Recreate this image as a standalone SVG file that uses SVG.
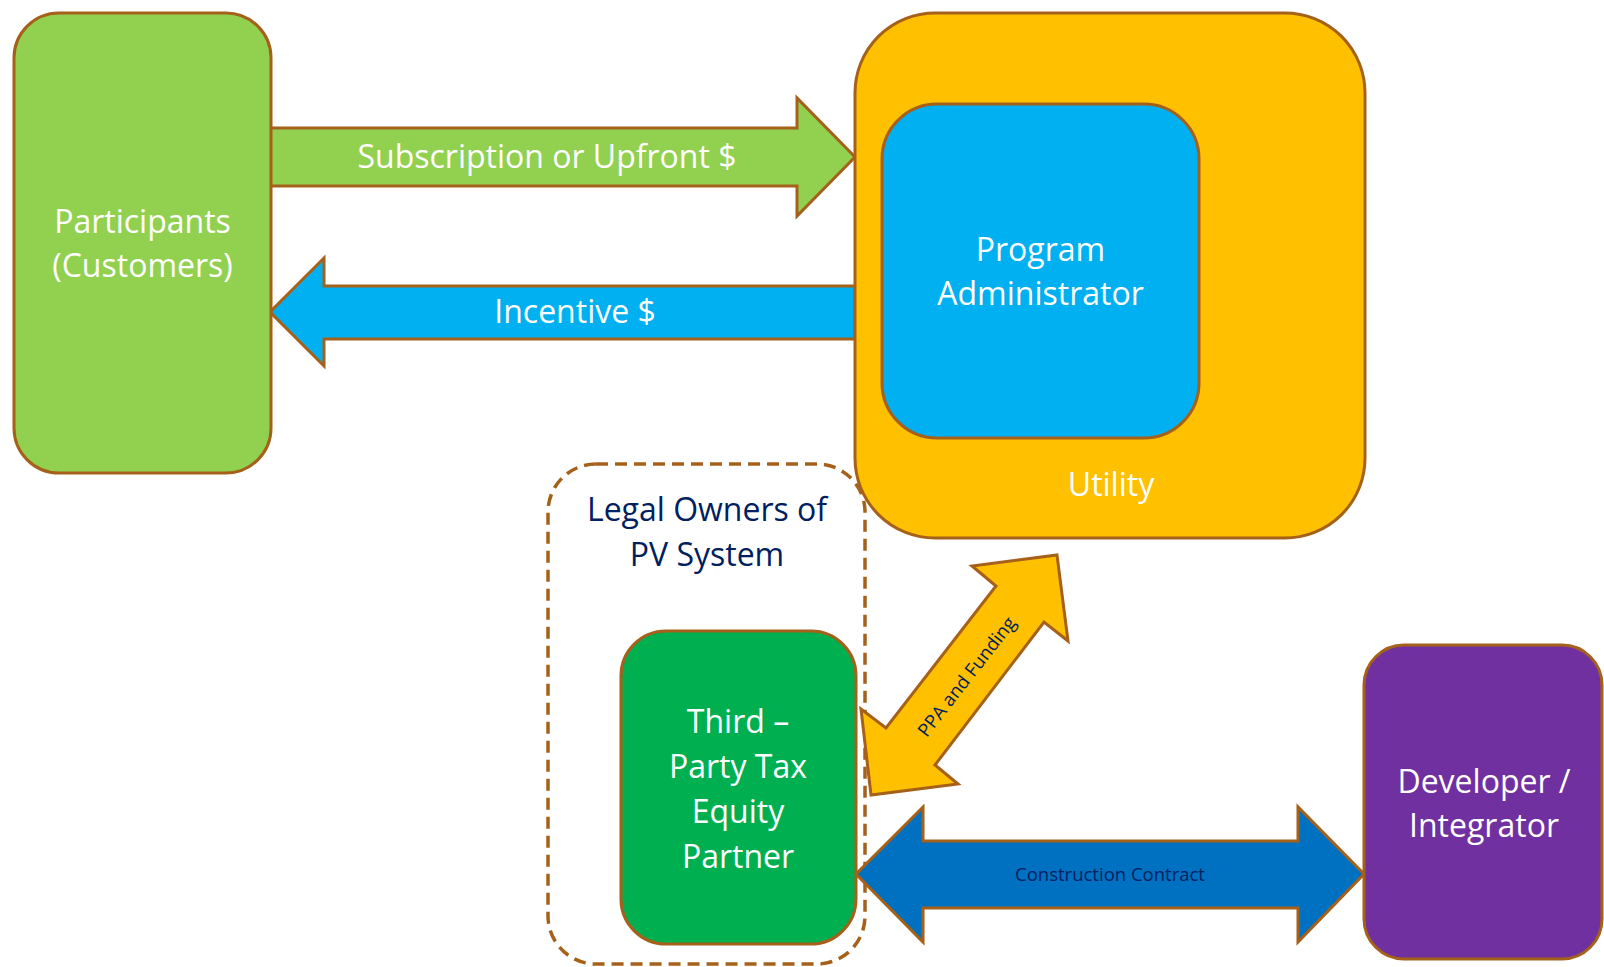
<svg xmlns="http://www.w3.org/2000/svg" width="1604" height="967" viewBox="0 0 1604 967">
<style>
.box{stroke:#A5601A;stroke-width:3}
.arr{stroke:#A5601A;stroke-width:3;stroke-linejoin:miter}
.t{font-family:"Open Sans","Liberation Sans",sans-serif;font-size:32px;fill:#FFFFFF;text-anchor:middle}
.nav{font-family:"Open Sans","Liberation Sans",sans-serif;fill:#002060;text-anchor:middle}
</style>
<rect width="1604" height="967" fill="#FFFFFF"/>
<g id="legal-owners">
<rect x="548" y="464" width="317" height="500" rx="48" ry="48" fill="none" stroke="#A5601A" stroke-width="3.5" stroke-dasharray="12,7"/>
<text class="nav" font-size="32" x="707" y="521">Legal Owners of</text>
<text class="nav" font-size="32" x="707" y="566">PV System</text>
</g>
<g id="connectors">
<polygon class="arr" fill="#92D050" points="270,128 797,128 797,98 855,157 797,216 797,186 270,186"/>
<text class="t" x="547" y="168">Subscription or Upfront $</text>
<polygon class="arr" fill="#00B0F0" points="855,286 324,286 324,258 270,312 324,366 324,339 855,339"/>
<text class="t" x="575" y="323">Incentive $</text>
<polygon class="arr" fill="#FFC000" points="1057,555 1068,641 1044,622 935,765 958,784 871,795 861,709 886,728 996,586 972,566"/>
<text class="nav" font-size="18.5" transform="translate(967,677) rotate(-52)" y="6">PPA and Funding</text>
<polygon class="arr" fill="#0070C0" points="856,874 923,807 923,841 1298,841 1298,807 1364,874 1298,942 1298,908 923,908 923,942"/>
<text class="nav" font-size="18.5" x="1110" y="881">Construction Contract</text>
</g>
<g id="participants">
<rect class="box" x="14" y="13" width="257" height="460" rx="45" ry="45" fill="#92D050"/>
<text class="t" x="142.5" y="233">Participants</text>
<text class="t" x="142.5" y="277">(Customers)</text>
</g>
<g id="utility">
<rect class="box" x="855" y="13" width="510" height="525" rx="80" ry="80" fill="#FFC000"/>
<text class="t" x="1111" y="496">Utility</text>
</g>
<g id="program-administrator">
<rect class="box" x="882" y="104" width="317" height="334" rx="55" ry="55" fill="#00B0F0"/>
<text class="t" x="1040.5" y="261">Program</text>
<text class="t" x="1040.5" y="305">Administrator</text>
</g>
<g id="third-party">
<rect class="box" x="621" y="631" width="235" height="313" rx="45" ry="45" fill="#00B050"/>
<text class="t" x="738" y="733">Third –</text>
<text class="t" x="738" y="778">Party Tax</text>
<text class="t" x="738" y="823">Equity</text>
<text class="t" x="738" y="868">Partner</text>
</g>
<g id="developer">
<rect class="box" x="1364" y="645" width="238" height="314" rx="40" ry="40" fill="#7030A0"/>
<text class="t" x="1484" y="793">Developer /</text>
<text class="t" x="1484" y="837">Integrator</text>
</g>
</svg>
